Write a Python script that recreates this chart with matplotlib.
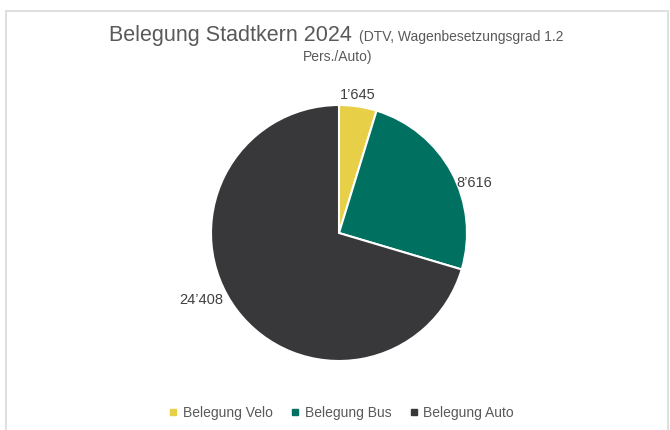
import matplotlib
matplotlib.use('Agg')
import matplotlib.pyplot as plt
from matplotlib.lines import Line2D
from matplotlib.patches import Rectangle

# data
categories = ['Belegung Velo', 'Belegung Bus', 'Belegung Auto']
values = [1645, 8616, 24408]
value_labels = ["1\u2019645", "8\u2019616", "24\u2019408"]
colors = ['#E8CF48', '#007060', '#38383A']

plt.rcParams['font.family'] = ['Liberation Sans', 'DejaVu Sans']

fig = plt.figure(figsize=(6.7, 4.3), dpi=100)
W, H = 670, 430

# chart frame
fig.patches.append(Rectangle((6 / W, -0.05), 662 / W, (H - 11) / H + 0.05,
                             transform=fig.transFigure, fill=False,
                             edgecolor='#D9D9D9', linewidth=1.2))

# pie axes: centre (339, 233), radius 128 px
r = 128
ax = fig.add_axes([(339 - r) / W, (H - 233 - r) / H, 2 * r / W, 2 * r / H])
wedges, _ = ax.pie(values, colors=colors, startangle=90, counterclock=False,
                   radius=1, wedgeprops=dict(edgecolor='white', linewidth=1.5))
ax.set_xlim(-1, 1)
ax.set_ylim(-1, 1)
ax.set_aspect('equal')
ax.axis('off')

# data labels (positions relative to pie radius)
label_pos = [(0.15, 1.08), (1.06, 0.39), (-1.08, -0.52)]
for (x, y), txt in zip(label_pos, value_labels):
    ax.text(x, y, txt, ha='center', va='center', fontsize=10.5,
            color='#404040', clip_on=False)

# title
fig.text(109 / W, 1 - 41 / H, 'Belegung Stadtkern 2024', fontsize=15.5,
         color='#595959', ha='left', va='baseline')
fig.text(359 / W, 1 - 41 / H, '(DTV, Wagenbesetzungsgrad 1.2', fontsize=10,
         color='#595959', ha='left', va='baseline')
fig.text(338 / W, 1 - 61 / H, 'Pers./Auto)', fontsize=10,
         color='#595959', ha='center', va='baseline')

# legend
handles = [Line2D([], [], marker='s', linestyle='none', markersize=4.5,
                  markerfacecolor=c, markeredgecolor=c) for c in colors]
fig.legend(handles, categories, loc='center', bbox_to_anchor=(342 / W, 1 - 413 / H),
           ncol=3, frameon=False, fontsize=10, labelcolor='#595959',
           handlelength=0.5, handletextpad=0.45, columnspacing=1.35,
           borderpad=0)

fig.savefig('out.png', dpi=100)
